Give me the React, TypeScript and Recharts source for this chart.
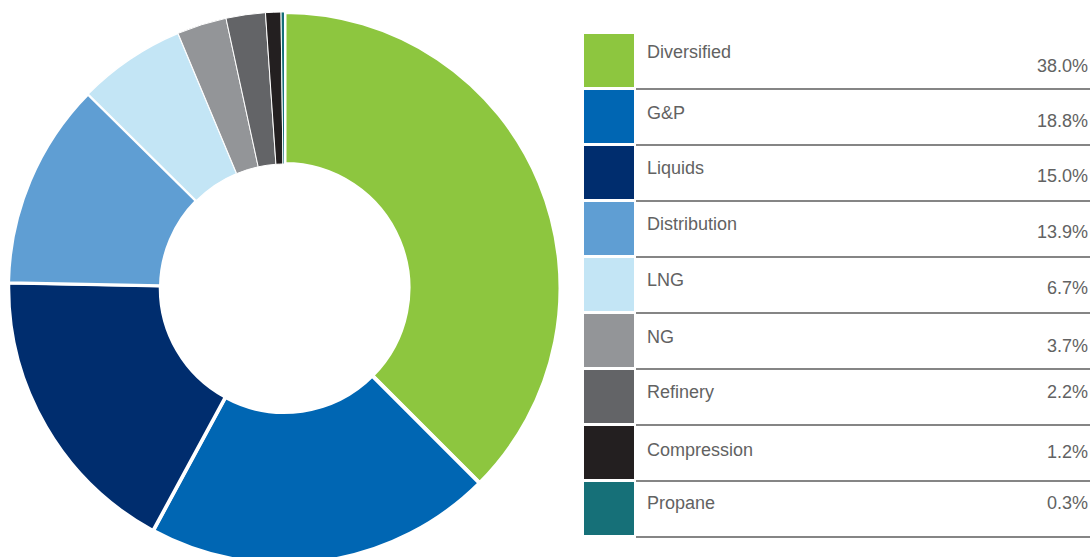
import { Cell, Pie, PieChart } from "recharts";

// legend rows
const categories = ["Diversified", "G&P", "Liquids", "Distribution", "LNG", "NG", "Refinery", "Compression", "Propane"];
const shares = [38.0, 18.8, 15.0, 13.9, 6.7, 3.7, 2.2, 1.2, 0.3];
// slice sizes as they are drawn in the donut
const sliceValues = [37.5, 20.4, 17.4, 12.1, 6.3, 2.9, 2.3, 0.9, 0.2];

const colors = ["#8DC63F", "#0066B3", "#002D6E", "#5F9ED3", "#C3E5F5", "#939598", "#636467", "#231F20", "#167078"];
const strokeWidths = [4, 4, 3.5, 3, 1.5, 1, 1, 1, 1];
const labelDy = [18, 23, 22, 22, 22, 23, 22, 24, 21];
const valueDy = [32, 31, 30, 30, 30, 32, 22, 26, 21];

const W = 1090;
const H = 557;
const ROW_TOP = 34;
const ROW_PITCH = 56;
const FONT = "'Liberation Sans', Arial, sans-serif";

const sliceData = categories.map((name, i) => ({ name, value: sliceValues[i] }));

function LegendTable() {
  return (
    <div style={{ position: "absolute", left: 0, top: 0, width: W, height: H, fontFamily: FONT, color: "#626262", fontSize: 18 }}>
      {categories.map((name, i) => {
        const top = ROW_TOP + i * ROW_PITCH;
        return (
          <div key={name}>
            <div style={{ position: "absolute", left: 584, top, width: 50, height: 53, background: colors[i] }} />
            <div style={{ position: "absolute", left: 636, top: top + 54, width: W - 636, height: 2, background: "#858585" }} />
            <div style={{ position: "absolute", left: 647, top: top + labelDy[i] - 11, lineHeight: "22px", whiteSpace: "nowrap" }}>
              {name}
            </div>
            <div style={{ position: "absolute", right: 2, top: top + valueDy[i] - 11, lineHeight: "22px", whiteSpace: "nowrap" }}>
              {shares[i].toFixed(1)}%
            </div>
          </div>
        );
      })}
    </div>
  );
}

export default function App() {
  return (
    <div style={{ position: "absolute", left: 0, top: 0, width: W, height: H, overflow: "hidden", background: "#fff" }}>
      <PieChart width={W} height={H} margin={{ top: 0, right: 0, bottom: 0, left: 0 }}>
        <Pie
          data={sliceData}
          dataKey="value"
          nameKey="name"
          cx={284.5}
          cy={288}
          innerRadius={124}
          outerRadius={276}
          startAngle={90}
          endAngle={-270}
          stroke="#ffffff"
          isAnimationActive={false}
        >
          {sliceData.map((d, i) => (
            <Cell key={d.name} fill={colors[i]} stroke="#ffffff" strokeWidth={strokeWidths[i]} />
          ))}
        </Pie>
      </PieChart>
      <LegendTable />
    </div>
  );
}
